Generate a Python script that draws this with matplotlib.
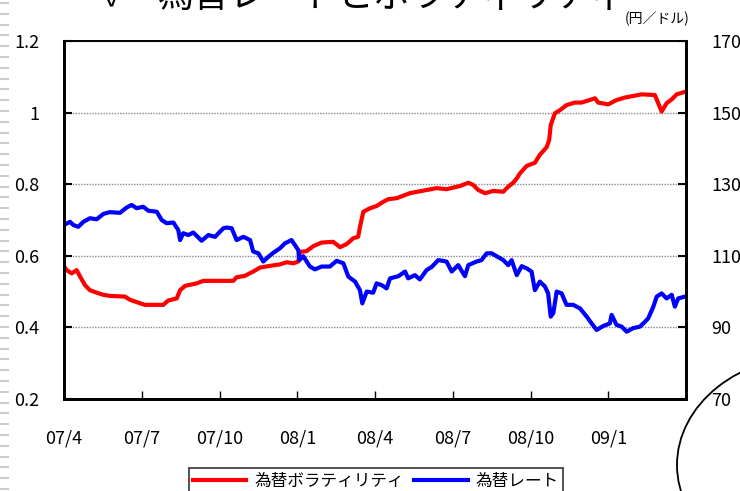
"""
Exchange rate vs. FX volatility, Apr 2007 - Mar 2009.
x values are months counted from 2007/4.
"""
import numpy as np
from matplotlib import pyplot as plt
from matplotlib.patches import Ellipse
from matplotlib.lines import Line2D

plt.rcParams['font.family'] = ['Noto Sans CJK JP', 'DejaVu Sans']

# volatility (left axis)
vol_m = [0.00, 0.10, 0.30, 0.49, 0.62, 0.81, 1.00, 1.26, 1.52, 1.77, 2.35, 2.55, 2.87, 3.12,
         3.83, 4.02, 4.35, 4.48, 4.67, 5.12, 5.37, 6.40, 6.53, 6.66, 6.98, 7.30, 7.56, 7.95,
         8.33, 8.59, 8.85, 9.04, 9.10, 9.36, 9.62, 9.94, 10.39, 10.65, 10.91, 11.16, 11.35,
         11.42, 11.55, 11.81, 12.06, 12.32, 12.51, 12.84, 13.35, 13.86, 14.38, 14.76, 15.28,
         15.60, 15.79, 15.98, 16.24, 16.56, 16.95, 17.14, 17.33, 17.47, 17.59, 17.85, 18.17,
         18.36, 18.62, 18.72, 18.78, 18.94, 19.14, 19.39, 19.71, 19.97, 20.49, 20.61, 21.00,
         21.32, 21.64, 22.29, 22.80, 22.93, 23.06, 23.25, 23.45, 23.64, 23.96]
vol = [0.571, 0.560, 0.551, 0.560, 0.542, 0.518, 0.504, 0.497, 0.491, 0.488, 0.486, 0.477,
       0.469, 0.463, 0.463, 0.475, 0.481, 0.504, 0.516, 0.523, 0.530, 0.530, 0.530, 0.540,
       0.544, 0.556, 0.567, 0.572, 0.576, 0.582, 0.579, 0.584, 0.611, 0.613, 0.627, 0.637,
       0.639, 0.624, 0.633, 0.649, 0.653, 0.681, 0.723, 0.733, 0.739, 0.751, 0.758, 0.761,
       0.775, 0.782, 0.789, 0.786, 0.795, 0.804, 0.798, 0.784, 0.775, 0.781, 0.779, 0.793,
       0.804, 0.816, 0.830, 0.851, 0.860, 0.882, 0.903, 0.923, 0.965, 0.998, 1.007, 1.021,
       1.028, 1.028, 1.040, 1.028, 1.023, 1.035, 1.042, 1.051, 1.049, 1.026, 1.003, 1.026,
       1.037, 1.051, 1.058]

# yen per dollar (right axis)
rate_m = [0.00, 0.23, 0.36, 0.55, 0.75, 1.00, 1.26, 1.52, 1.77, 2.16, 2.42, 2.61, 2.80, 3.06,
          3.25, 3.58, 3.77, 3.96, 4.22, 4.41, 4.48, 4.60, 4.80, 4.99, 5.31, 5.57, 5.83, 6.15,
          6.28, 6.47, 6.66, 6.92, 7.18, 7.30, 7.50, 7.69, 7.88, 8.07, 8.33, 8.53, 8.78, 8.91,
          9.04, 9.08, 9.23, 9.49, 9.68, 9.94, 10.26, 10.52, 10.78, 10.97, 11.23, 11.42, 11.51,
          11.68, 11.93, 12.06, 12.26, 12.45, 12.58, 12.90, 13.16, 13.28, 13.54, 13.73, 13.99,
          14.19, 14.44, 14.76, 14.96, 15.21, 15.47, 15.60, 15.92, 16.11, 16.31, 16.50, 16.76,
          16.95, 17.14, 17.27, 17.47, 17.66, 17.85, 18.04, 18.17, 18.36, 18.56, 18.68, 18.78,
          18.88, 19.01, 19.20, 19.39, 19.65, 19.91, 20.17, 20.36, 20.55, 20.81, 21.06, 21.13,
          21.32, 21.52, 21.71, 21.96, 22.22, 22.42, 22.54, 22.74, 22.87, 23.06, 23.25, 23.45,
          23.57, 23.70, 23.96]
rate = [118.6, 119.5, 118.6, 118.1, 119.5, 120.5, 120.2, 121.7, 122.2, 122.0, 123.5, 124.2,
        123.3, 123.7, 122.6, 122.3, 120.0, 119.1, 119.3, 117.2, 114.4, 116.3, 115.8, 116.5,
        114.2, 115.8, 115.3, 117.7, 117.9, 117.7, 114.4, 115.3, 114.4, 111.2, 110.7, 108.4,
        109.7, 110.8, 112.1, 113.5, 114.4, 113.0, 111.6, 108.8, 109.9, 107.0, 106.2, 107.0,
        107.0, 108.6, 107.9, 104.2, 102.8, 100.4, 96.7, 100.0, 99.7, 102.3, 101.8, 100.9,
        103.7, 104.3, 105.6, 103.7, 104.6, 103.4, 106.0, 106.9, 108.8, 108.4, 105.6, 107.4,
        104.3, 107.4, 108.4, 108.8, 110.7, 110.7, 109.6, 108.8, 107.4, 108.8, 104.6, 107.1,
        106.5, 105.6, 100.4, 102.8, 101.4, 99.5, 93.0, 94.0, 100.0, 99.5, 96.3, 96.3, 95.3,
        93.0, 91.1, 89.3, 90.4, 91.1, 93.5, 90.7, 90.2, 88.8, 89.8, 90.2, 91.6, 92.5, 95.8,
        98.6, 99.5, 98.1, 99.1, 95.8, 98.1, 98.6]

tick_m = [0, 3, 6, 9, 12, 15, 18, 21, 24]
tick_labels = ['07/4', '07/7', '07/10', '08/1', '08/4', '08/7', '08/10', '09/1', '']

W, H = 740, 491


def fx(px):
    return px / W


def fy(py):
    return 1 - py / H


def main():
    fig = plt.figure(figsize=(W / 100, H / 100), dpi=100)
    ax = fig.add_axes([fx(64), fy(399), fx(686) - fx(64), fy(41) - fy(399)])
    ax2 = ax.twinx()

    l1, = ax.plot(vol_m, vol, color='#ff0000', lw=3, solid_joinstyle='round')
    l2, = ax2.plot(rate_m, rate, color='#0000ff', lw=3, solid_joinstyle='round')

    ax.set_xlim(0, 24)
    ax.set_ylim(0.2, 1.2)
    ax2.set_ylim(70, 170)
    ax.set_yticks([0.2, 0.4, 0.6, 0.8, 1.0, 1.2])
    ax.set_yticklabels(['0.2', '0.4', '0.6', '0.8', '1', '1.2'])
    ax2.set_yticks([70, 90, 110, 130, 150, 170])
    ax.set_xticks(tick_m)
    ax.set_xticklabels(tick_labels)

    for y in [0.4, 0.6, 0.8, 1.0, 1.2]:
        ax.axhline(y, color='#888888', lw=1.0, ls=(0, (1, 1)), zorder=0)

    ax.tick_params(axis='y', direction='in', length=6, width=1.5, labelsize=13, pad=18)
    ax.tick_params(axis='x', direction='in', length=6, width=1, labelsize=13, pad=22)
    ax2.tick_params(axis='y', direction='in', length=6, width=1.5, labelsize=13, pad=18)
    for a in (ax, ax2):
        for s in ['left', 'right', 'bottom']:
            a.spines[s].set_linewidth(2)
        a.spines['top'].set_linewidth(1.2)

    # title (cut off at top of slide)
    fig.text(fx(105), fy(-2), '✓', fontsize=22, va='center', ha='left')
    fig.text(fx(158), fy(-3), '為替レートとボラティリティ', fontsize=26, va='center', ha='left')
    fig.text(fx(657), fy(19), '(円／ドル)', fontsize=10, va='center', ha='center')

    leg = fig.legend([l1, l2], ['為替ボラティリティ', '為替レート'], loc='upper center',
                     bbox_to_anchor=(fx(376), fy(460)), ncol=2, fontsize=12,
                     frameon=True, fancybox=False, edgecolor='black', handlelength=3.2,
                     columnspacing=0.6, handletextpad=0.5, borderpad=0.25)
    leg.get_frame().set_linewidth(1.2)

    # callout bubble at bottom right of slide
    fig.add_artist(Ellipse((fx(815), fy(465)), fx(276), 220 / H, transform=fig.transFigure,
                           fill=False, edgecolor='black', lw=1.3))

    # slide edge decoration
    for py in np.arange(3, H, 10.8):
        fig.add_artist(Line2D([0, fx(8)], [fy(py), fy(py)], color='#cccccc', lw=1.5))

    fig.savefig('out.png', dpi=100)


if __name__ == "__main__":
    main()
